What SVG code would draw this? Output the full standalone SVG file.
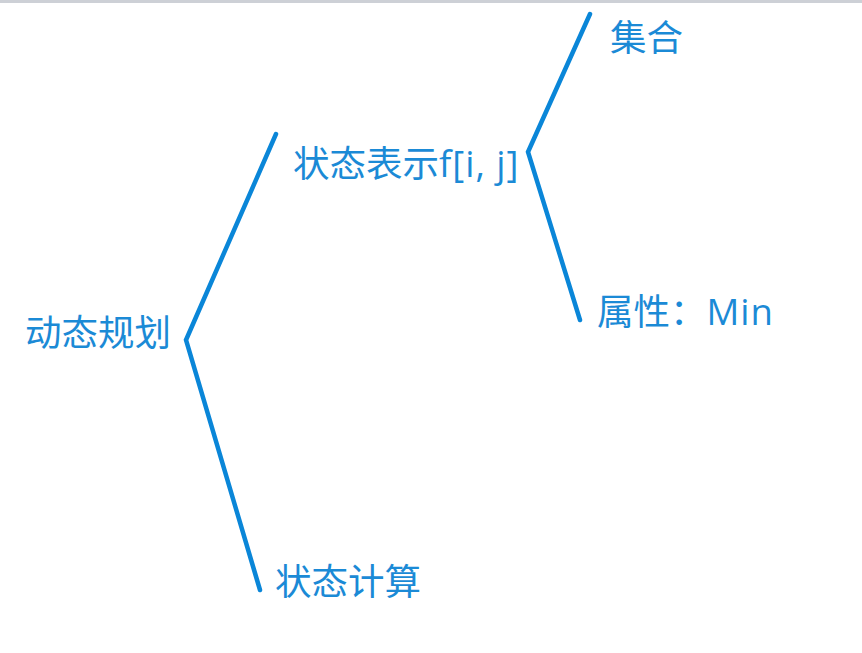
<svg xmlns="http://www.w3.org/2000/svg" width="862" height="653" viewBox="0 0 862 653">
<style>
.t{font-family:"Noto Sans CJK SC","Noto Sans",sans-serif;font-size:36.5px;fill:#1b8ad6}
.l{font-family:"Open Sans","Noto Sans",sans-serif;letter-spacing:1px}
.c{fill:none;stroke:#0a86d8;stroke-width:4.5;stroke-linecap:round;stroke-linejoin:miter}
</style>
<rect x="0" y="0" width="862" height="653" fill="#ffffff"/>
<rect x="0" y="0" width="862" height="3" fill="#cdd0d6"/>
<g id="connectors">
<polyline class="c" points="276,134 186,340 260,590"/>
<polyline class="c" points="590,14 528,152 580,320"/>
</g>
<g id="n1"><text class="t" x="25" y="346">动态规划</text></g>
<g id="n2"><text class="t" x="293" y="177">状态表示<tspan class="l">f[i, j]</tspan></text></g>
<g id="n3"><text class="t" x="610" y="51">集合</text></g>
<g id="n4"><text class="t" x="597" y="325">属性：<tspan class="l">Min</tspan></text></g>
<g id="n5"><text class="t" x="275" y="595">状态计算</text></g>
</svg>
